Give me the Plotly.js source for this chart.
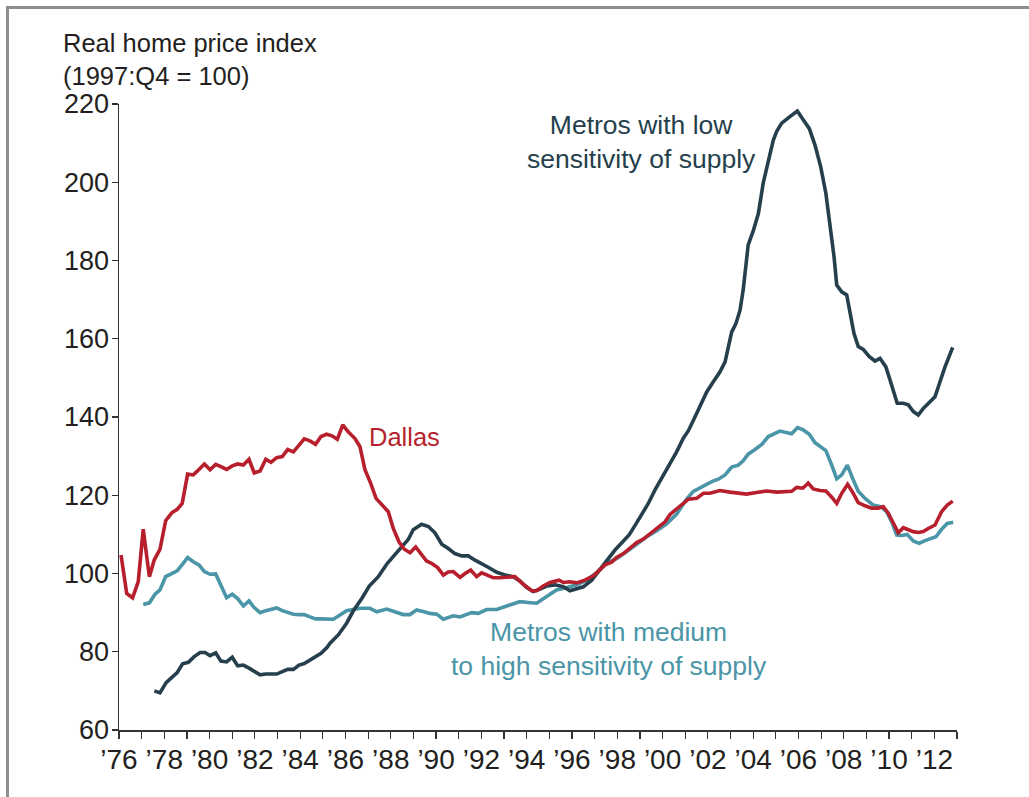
<!DOCTYPE html>
<html>
<head>
<meta charset="utf-8">
<script src="https://cdn.plot.ly/plotly-3.0.1.min.js"></script>
<style>
  html, body { margin: 0; padding: 0; background: #fff; overflow: hidden; }
  #chart { position: absolute; left: 0; top: 0; width: 1029px; height: 797px; }
  #frame { position: absolute; left: 6px; top: 6px; width: 1100px; height: 900px;
           border-left: 3px solid #8e8e8e; border-top: 3px solid #8e8e8e; pointer-events: none; }
</style>
</head>
<body>
<div id="chart"></div>
<div id="frame"></div>
<script>
// Real home price index (1997:Q4 = 100)
const dallasYears = [1976.09,1976.34,1976.60,1976.85,1977.07,1977.34,1977.56,1977.81,1978.06,1978.33,1978.57,1978.79,1979.03,1979.28,1979.53,1979.77,1980.02,1980.27,1980.50,1980.75,1981.00,1981.24,1981.49,1981.74,1981.97,1982.23,1982.48,1982.71,1982.96,1983.21,1983.45,1983.70,1983.95,1984.18,1984.43,1984.68,1984.92,1985.17,1985.40,1985.64,1985.88,1986.12,1986.42,1986.64,1986.86,1987.11,1987.35,1987.60,1987.89,1988.11,1988.36,1988.60,1988.85,1989.10,1989.33,1989.58,1989.83,1990.07,1990.32,1990.54,1990.76,1991.06,1991.28,1991.53,1991.79,1992.01,1992.26,1992.53,1992.82,1993.12,1993.48,1993.78,1994.00,1994.22,1994.44,1994.73,1995.03,1995.43,1995.62,1995.91,1996.21,1996.57,1996.94,1997.24,1997.46,1997.75,1997.97,1998.27,1998.56,1998.86,1999.15,1999.44,1999.74,2000.11,2000.33,2000.62,2000.91,2001.14,2001.51,2001.80,2002.09,2002.53,2002.98,2003.34,2003.71,2004.15,2004.60,2005.04,2005.36,2005.70,2005.92,2006.19,2006.43,2006.65,2006.95,2007.21,2007.47,2007.69,2007.91,2008.17,2008.42,2008.64,2008.94,2009.23,2009.52,2009.74,2009.96,2010.19,2010.41,2010.63,2010.85,2011.07,2011.29,2011.51,2011.73,2012.03,2012.32,2012.57,2012.81];
const dallasValues = [104.7,94.9,93.8,97.9,111.3,99.2,103.5,106.2,113.5,115.5,116.4,117.9,125.4,125.2,126.6,128.0,126.5,127.9,127.3,126.6,127.5,128.0,127.7,129.2,125.7,126.2,129.2,128.4,129.6,129.9,131.7,131.1,132.8,134.4,133.9,133.0,135.0,135.6,135.2,134.3,138.0,136.2,134.5,132.4,126.5,123.1,119.2,117.5,115.8,111.5,108.1,106.2,105.3,106.8,105.0,103.2,102.5,101.5,99.6,100.4,100.5,99.0,100.0,100.9,99.2,100.2,99.6,98.9,98.9,99.0,99.2,97.6,96.6,95.6,95.6,96.8,97.7,98.3,97.7,97.9,97.6,98.3,99.4,100.9,102.2,102.9,104.1,105.1,106.4,107.9,108.8,110.2,111.5,113.2,115.1,116.4,117.9,119.0,119.2,120.5,120.5,121.2,120.8,120.6,120.3,120.7,121.1,120.8,120.9,121.0,122.0,121.8,123.1,121.6,121.2,121.1,119.5,117.9,120.5,122.8,120.5,118.1,117.3,116.7,116.7,117.1,115.5,112.8,110.4,111.7,111.1,110.7,110.5,110.7,111.5,112.4,115.8,117.5,118.5];

const mediumYears = [1977.07,1977.34,1977.59,1977.81,1978.06,1978.33,1978.57,1978.81,1979.03,1979.28,1979.53,1979.77,1980.02,1980.27,1980.50,1980.75,1981.00,1981.24,1981.49,1981.74,1981.97,1982.23,1982.48,1982.71,1982.96,1983.21,1983.45,1983.70,1983.95,1984.18,1984.43,1984.68,1984.92,1985.17,1985.46,1985.76,1986.05,1986.34,1986.64,1987.08,1987.38,1987.82,1988.19,1988.55,1988.85,1989.14,1989.43,1989.73,1990.03,1990.32,1990.76,1991.06,1991.57,1991.86,1992.23,1992.68,1993.12,1993.70,1994.07,1994.44,1994.88,1995.32,1995.77,1996.21,1996.65,1997.09,1997.53,1997.97,1998.42,1998.86,1999.30,1999.74,2000.18,2000.62,2001.06,2001.36,2001.80,2002.17,2002.46,2002.76,2003.05,2003.34,2003.56,2003.78,2004.08,2004.38,2004.67,2005.18,2005.70,2005.96,2006.21,2006.48,2006.73,2006.95,2007.21,2007.47,2007.69,2007.91,2008.16,2008.39,2008.64,2008.94,2009.30,2009.63,2009.89,2010.12,2010.34,2010.56,2010.80,2011.07,2011.33,2011.59,2011.84,2012.07,2012.32,2012.57,2012.83];
const mediumValues = [92.1,92.5,94.7,95.8,99.2,100.1,100.7,102.4,104.1,103.0,102.2,100.5,99.8,99.9,97.1,93.8,94.7,93.6,91.7,93.0,91.3,90.0,90.5,90.8,91.2,90.5,90.0,89.6,89.5,89.5,88.9,88.4,88.4,88.4,88.3,89.4,90.5,90.8,91.1,91.1,90.2,90.9,90.2,89.5,89.5,90.7,90.3,89.8,89.6,88.3,89.2,88.9,90.0,89.8,90.8,90.8,91.7,92.8,92.6,92.4,94.1,95.8,96.4,97.1,98.3,100.2,102.6,103.8,105.6,107.4,109.4,110.9,112.7,115.2,119.0,121.0,122.5,123.5,124.1,125.2,127.2,127.7,128.8,130.5,131.7,133.0,135.0,136.4,135.7,137.3,136.7,135.6,133.4,132.6,131.4,127.7,124.2,125.2,127.7,124.3,121.0,119.2,117.5,117.1,115.8,113.2,109.8,109.7,110.0,108.3,107.7,108.4,109.0,109.4,111.3,112.8,113.1];

const lowYears = [1977.56,1977.81,1978.08,1978.33,1978.57,1978.81,1979.06,1979.31,1979.58,1979.80,1980.02,1980.27,1980.50,1980.75,1981.00,1981.24,1981.49,1981.74,1981.97,1982.23,1982.48,1982.71,1982.96,1983.21,1983.45,1983.70,1983.95,1984.18,1984.43,1984.68,1984.92,1985.17,1985.32,1985.68,1986.05,1986.34,1986.72,1987.05,1987.45,1987.85,1988.19,1988.48,1988.77,1988.99,1989.36,1989.66,1989.95,1990.25,1990.54,1990.83,1991.13,1991.42,1991.72,1992.01,1992.30,1992.68,1993.04,1993.41,1993.70,1994.00,1994.29,1994.59,1994.88,1995.25,1995.62,1995.91,1996.21,1996.50,1996.87,1997.24,1997.53,1997.90,1998.19,1998.53,1998.86,1999.08,1999.37,1999.66,1999.96,2000.25,2000.62,2000.91,2001.14,2001.43,2001.73,2001.95,2002.24,2002.53,2002.76,2002.90,2003.05,2003.24,2003.42,2003.56,2003.71,2003.78,2004.00,2004.23,2004.45,2004.67,2004.89,2005.04,2005.26,2005.58,2005.95,2006.21,2006.48,2006.73,2006.98,2007.21,2007.39,2007.57,2007.69,2007.91,2008.13,2008.27,2008.45,2008.64,2008.86,2009.13,2009.38,2009.60,2009.86,2010.04,2010.22,2010.36,2010.63,2010.85,2011.07,2011.29,2011.51,2011.78,2012.03,2012.25,2012.47,2012.81];
const lowValues = [70.0,69.5,72.1,73.4,74.7,76.9,77.3,78.7,79.8,79.8,79.0,79.7,77.6,77.4,78.6,76.4,76.6,75.8,74.9,74.1,74.3,74.3,74.3,74.9,75.5,75.5,76.6,77.0,77.9,78.6,79.6,81.0,82.2,84.3,87.3,90.4,93.6,96.8,99.2,102.6,104.7,106.8,108.7,111.2,112.6,112.0,110.4,107.5,106.4,105.1,104.5,104.5,103.4,102.6,101.6,100.3,99.6,99.2,98.1,96.4,95.4,96.0,96.8,97.1,96.6,95.6,96.0,96.6,98.3,101.0,103.4,106.0,107.8,109.9,113.0,115.1,117.9,121.3,124.3,127.3,131.1,134.5,136.5,140.0,143.9,146.4,149.0,151.5,154.1,157.9,161.7,163.9,167.3,172.5,179.3,184.0,187.5,192.0,200.0,205.5,210.8,213.0,215.1,216.6,218.2,216.0,213.7,209.5,204.0,197.2,189.5,181.0,173.7,172.0,171.2,166.5,161.4,158.0,157.3,155.4,154.3,155.0,152.8,149.5,146.0,143.5,143.5,143.1,141.4,140.5,142.2,143.9,145.2,149.0,152.8,157.8];

const yearTicks = [1976,1977,1978,1979,1980,1981,1982,1983,1984,1985,1986,1987,1988,1989,1990,1991,1992,1993,1994,1995,1996,1997,1998,1999,2000,2001,2002,2003,2004,2005,2006,2007,2008,2009,2010,2011,2012,2013];
const yearLabels = ["’76","","’78","","’80","","’82","","’84","","’86","","’88","","’90","","’92","","’94","","’96","","’98","","’00","","’02","","’04","","’06","","’08","","’10","","’12",""];
const valueTicks = [60,80,100,120,140,160,180,200,220];

const COL_LOW = '#253f4c';
const COL_MED = '#4a95a7';
const COL_DAL = '#b71f2c';
const FONT = 'Liberation Sans, Arial, Helvetica, sans-serif';

const traces = [
  {x: mediumYears, y: mediumValues, mode: 'lines', line: {color: COL_MED, width: 3.6}, name: 'Medium'},
  {x: lowYears, y: lowValues, mode: 'lines', line: {color: COL_LOW, width: 3.6}, name: 'Low'},
  {x: dallasYears, y: dallasValues, mode: 'lines', line: {color: COL_DAL, width: 3.6}, name: 'Dallas'}
];

const layout = {
  width: 1029, height: 797,
  margin: {l: 119, r: 72, t: 104, b: 67},
  paper_bgcolor: '#fff', plot_bgcolor: '#fff',
  showlegend: false,
  font: {family: FONT, size: 26, color: '#231f20'},
  xaxis: {
    range: [1976, 2013], tickmode: 'array', tickvals: yearTicks, ticktext: yearLabels,
    showgrid: false, zeroline: false, showline: true, linecolor: '#333', linewidth: 1.5,
    ticks: 'outside', ticklen: 7, tickwidth: 1.2, tickcolor: '#333', ticklabelstandoff: -3,
    tickfont: {family: FONT, size: 28, color: '#231f20'}, fixedrange: true
  },
  yaxis: {
    range: [60, 220], tickmode: 'array', tickvals: valueTicks,
    showgrid: false, zeroline: false, showline: true, linecolor: '#333', linewidth: 1.5,
    ticks: 'outside', ticklen: 6, tickwidth: 1.2, tickcolor: '#333', ticklabelstandoff: -3,
    tickfont: {family: FONT, size: 27, color: '#231f20'}, fixedrange: true
  },
  annotations: [
    {xref: 'paper', yref: 'paper', x: -0.069, y: 1.071, xanchor: 'left', yanchor: 'middle', align: 'left',
     showarrow: false, text: 'Real home price index<br>(1997:Q4 = 100)',
     font: {family: FONT, size: 25.5, color: '#231f20'}},
    {xref: 'x', yref: 'y', x: 1999.05, y: 210.4, xanchor: 'center', yanchor: 'middle', align: 'center',
     showarrow: false, text: 'Metros with low<br>sensitivity of supply',
     font: {family: FONT, size: 26.5, color: COL_LOW}},
    {xref: 'x', yref: 'y', x: 1986.95, y: 134.9, xanchor: 'left', yanchor: 'middle',
     showarrow: false, text: 'Dallas', font: {family: FONT, size: 25.5, color: COL_DAL}},
    {xref: 'x', yref: 'y', x: 1997.63, y: 80.6, xanchor: 'center', yanchor: 'middle', align: 'center',
     showarrow: false, text: 'Metros with medium<br>to high sensitivity of supply',
     font: {family: FONT, size: 26.5, color: COL_MED}}
  ]
};

Plotly.newPlot('chart', traces, layout, {displayModeBar: false, staticPlot: true});
</script>
</body>
</html>
